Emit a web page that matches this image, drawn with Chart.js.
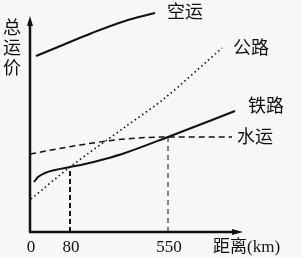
<!DOCTYPE html>
<html>
<head>
<meta charset="utf-8">
<script src="https://cdn.jsdelivr.net/npm/chart.js@4/dist/chart.umd.min.js"></script>
<style>
  html, body { margin: 0; padding: 0; background: #f7f7f7; }
  #wrap { width: 302px; height: 258px; position: relative; }
</style>
</head>
<body>
<div id="wrap"><canvas id="chart"></canvas></div>
<script>
// Schematic chart: x in layout units along the distance axis, y in price units
const xTickPos = [0, 40, 138];
const xTickLabels = ['0', '80', '550'];
const xTitle = '距离(km)';
const yTitle = ['总', '运', '价'];

const seriesNames = ['空运', '公路', '铁路', '水运'];

const airX = [6, 28, 62, 95, 125];
const airY = [176, 185, 199, 211, 219];

const roadX = [1, 40, 95, 135, 192];
const roadY = [33, 65, 105, 134, 184];

const railX = [4, 8, 15, 25, 40, 55, 75, 95, 138, 205];
const railY = [50, 55, 59, 62, 65, 68, 73, 79, 95, 121];

const waterX = [0, 50, 95, 138, 202];
const waterY = [78, 87, 93, 95, 95];

// label anchor points for each series (left x, centre y)
const labelX = [137, 203, 218, 207];
const labelY = [219, 183, 125, 94];

const X_MAX = 213;
const Y_MAX = 224;
const Y_ARROW = 216;

function pts(xs, ys) {
    return xs.map((x, i) => ({ x: x, y: ys[i] }));
}

// vertical guides at 80 and 550 reach up to the railway line
const guide80 = [{ x: xTickPos[1], y: 0 }, { x: xTickPos[1], y: railY[4] }];
const guide550 = [{ x: xTickPos[2], y: 0 }, { x: xTickPos[2], y: railY[8] }];

const serif = '"Liberation Serif", "DejaVu Serif", "Noto Sans CJK SC", serif';

const decorPlugin = {
    id: 'decor',
    beforeDraw(chart) {
        const ctx = chart.ctx;
        ctx.save();
        ctx.fillStyle = '#f7f7f7';
        ctx.fillRect(0, 0, chart.width, chart.height);
        ctx.restore();
    },
    afterDatasetsDraw(chart) {
        const ctx = chart.ctx;
        const xs = chart.scales.x;
        const ys = chart.scales.y;
        const x0 = xs.getPixelForValue(0);
        const y0 = ys.getPixelForValue(0);
        const xEnd = xs.getPixelForValue(X_MAX);
        const yTop = ys.getPixelForValue(Y_ARROW);

        ctx.save();
        ctx.strokeStyle = '#111';
        ctx.fillStyle = '#111';
        ctx.lineWidth = 2.5;
        ctx.setLineDash([]);

        // axes
        ctx.beginPath();
        ctx.moveTo(x0, y0);
        ctx.lineTo(x0, yTop + 6);
        ctx.moveTo(x0 - 1, y0);
        ctx.lineTo(xEnd - 7, y0);
        ctx.stroke();

        // arrow heads
        ctx.beginPath();
        ctx.moveTo(x0, yTop);
        ctx.lineTo(x0 - 3, yTop + 10);
        ctx.lineTo(x0 + 3, yTop + 10);
        ctx.closePath();
        ctx.fill();
        ctx.beginPath();
        ctx.moveTo(xEnd, y0);
        ctx.lineTo(xEnd - 11, y0 - 3);
        ctx.lineTo(xEnd - 11, y0 + 3);
        ctx.closePath();
        ctx.fill();

        // tick labels
        ctx.font = '17px ' + serif;
        ctx.textAlign = 'center';
        ctx.textBaseline = 'middle';
        xTickPos.forEach((v, i) => {
            ctx.fillText(xTickLabels[i], xs.getPixelForValue(v) + 1, 248);
        });
        ctx.textAlign = 'left';
        ctx.fillText(xTitle, 213, 248);

        // y title, stacked
        ctx.font = '18px ' + serif;
        ctx.textAlign = 'center';
        yTitle.forEach((ch, i) => {
            ctx.fillText(ch, 12, 29 + i * 20);
        });

        // series labels
        ctx.textAlign = 'left';
        seriesNames.forEach((name, i) => {
            ctx.fillText(name, xs.getPixelForValue(labelX[i]), ys.getPixelForValue(labelY[i]));
        });
        ctx.restore();
    }
};

const ctx = document.getElementById('chart').getContext('2d');
new Chart(ctx, {
    type: 'line',
    data: {
        datasets: [{
            label: seriesNames[0],
            data: pts(airX, airY),
            borderColor: '#111',
            borderWidth: 2,
            tension: 0.4,
            cubicInterpolationMode: 'monotone'
        }, {
            label: seriesNames[1],
            data: pts(roadX, roadY),
            borderColor: '#111',
            borderWidth: 1.6,
            borderDash: [1.5, 3],
            tension: 0.3
        }, {
            label: seriesNames[2],
            data: pts(railX, railY),
            borderColor: '#111',
            borderWidth: 2,
            cubicInterpolationMode: 'monotone'
        }, {
            label: seriesNames[3],
            data: pts(waterX, waterY),
            borderColor: '#111',
            borderWidth: 1.5,
            borderDash: [6, 4],
            cubicInterpolationMode: 'monotone'
        }, {
            label: 'guide80',
            data: guide80,
            borderColor: '#111',
            borderWidth: 2,
            borderDash: [5, 3]
        }, {
            label: 'guide550',
            data: guide550,
            borderColor: '#111',
            borderWidth: 1,
            borderDash: [5, 4]
        }]
    },
    options: {
        responsive: true,
        maintainAspectRatio: false,
        animation: false,
        layout: {
            padding: { left: 30, right: 59, top: 8, bottom: 26 }
        },
        elements: {
            point: { radius: 0 },
            line: { fill: false }
        },
        scales: {
            x: { type: 'linear', min: 0, max: X_MAX, display: false },
            y: { type: 'linear', min: 0, max: Y_MAX, display: false }
        },
        plugins: {
            legend: { display: false },
            tooltip: { enabled: false }
        }
    },
    plugins: [decorPlugin]
});
</script>
</body>
</html>
